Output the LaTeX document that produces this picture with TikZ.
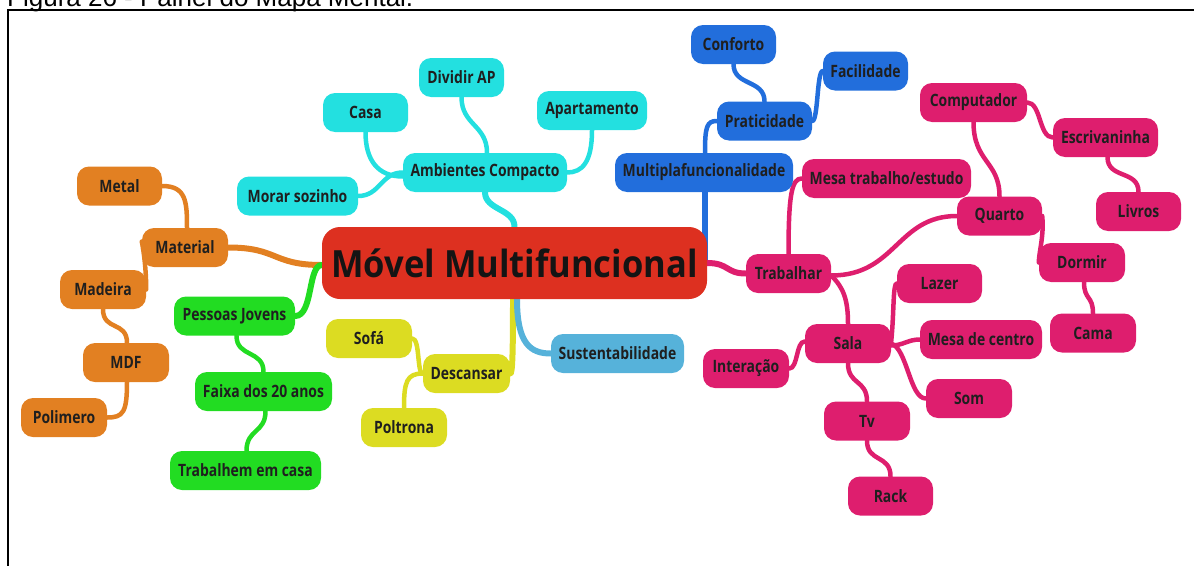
\documentclass[tikz,border=0pt]{standalone}
\usepackage{fontspec}
\newfontfamily\nodefont{Open Sans}[FakeStretch=0.82]
\newfontfamily\titlefont{Open Sans}[FakeStretch=0.92]
\newfontfamily\capfont{Liberation Sans}
\usetikzlibrary{backgrounds}
\definecolor{cy}{HTML}{23E0E0}
\definecolor{orc}{HTML}{E28022}
\definecolor{grc}{HTML}{22DC22}
\definecolor{yec}{HTML}{DCDC22}
\definecolor{lbc}{HTML}{56B2DA}
\definecolor{blc}{HTML}{226EDC}
\definecolor{mgc}{HTML}{DE1E6E}
\definecolor{rdc}{HTML}{DD3020}
\tikzset{
  mm/.style={rounded corners=12pt, minimum height=39pt, inner xsep=6pt, inner ysep=0pt,
    font=\nodefont\bfseries\fontsize{17}{20}\selectfont, text=black!88},
  ed/.style={line width=4.5pt, line cap=round},
  edr/.style={line width=6pt, line cap=round},
}
\begin{document}
\begin{tikzpicture}[x=1pt,y=-1pt]
\useasboundingbox (0,0) rectangle (1194,565);
\clip (0,0) rectangle (1194,565);
% caption and frame
\node[anchor=base west, inner sep=0pt, font=\capfont\fontsize{26}{30}\selectfont] (cap) at (7,6) {Figura 26 - Painel do Mapa Mental.};
\draw[line width=1.6pt] (8,570) -- (8,10) -- (1200,10);
% root
\node[rounded corners=18pt, fill=rdc, minimum width=385pt, minimum height=72pt, inner sep=0pt,
  font=\titlefont\bfseries\fontsize{37.5}{40}\selectfont, text=black!92] (root) at (514.5,263) {Móvel Multifuncional};
% cyan
\node[mm, fill=cy, minimum width=164pt] (amb) at (485,172.5) {Ambientes Compacto};
\node[mm, fill=cy, minimum width=85pt] (casa) at (365.5,112.5) {Casa};
\node[mm, fill=cy, minimum width=85pt] (div) at (461.5,77.5) {Dividir AP};
\node[mm, fill=cy, minimum width=110pt] (apt) at (592,110.5) {Apartamento};
\node[mm, fill=cy, minimum width=121pt] (morar) at (297.5,196) {Morar sozinho};
% orange
\node[mm, fill=orc, minimum width=86pt] (mat) at (185,247.5) {Material};
\node[mm, fill=orc, minimum width=85pt] (metal) at (119.5,186) {Metal};
\node[mm, fill=orc, minimum width=86pt] (mad) at (103,289.5) {Madeira};
\node[mm, fill=orc, minimum width=86pt] (mdf) at (126,362.5) {MDF};
\node[mm, fill=orc, minimum width=86pt] (pol) at (64,417.5) {Polimero};
% green
\node[mm, fill=grc, minimum width=121pt] (pj) at (234.5,316) {Pessoas Jovens};
\node[mm, fill=grc, minimum width=137pt] (faixa) at (263.5,391.5) {Faixa dos 20 anos};
\node[mm, fill=grc, minimum width=151pt] (trab) at (245.5,470.5) {Trabalhem em casa};
% yellow
\node[mm, fill=yec, minimum width=87pt] (desc) at (466.5,373.5) {Descansar};
\node[mm, fill=yec, minimum width=86pt] (sofa) at (369,338.5) {Sofá};
\node[mm, fill=yec, minimum width=86pt] (polt) at (404,427.5) {Poltrona};
% light blue
\node[mm, fill=lbc, minimum width=133pt] (sust) at (617.5,353.5) {Sustentabilidade};
% blue
\node[mm, fill=blc, minimum width=178pt] (multi) at (704,172.5) {Multiplafuncionalidade};
\node[mm, fill=blc, minimum width=95pt] (prat) at (764.5,121) {Praticidade};
\node[mm, fill=blc, minimum width=85pt] (conf) at (733.5,44.5) {Conforto};
\node[mm, fill=blc, minimum width=85pt] (fac) at (865.5,71) {Facilidade};
% magenta
\node[mm, fill=mgc, minimum width=85pt] (trabalhar) at (788.5,273.5) {Trabalhar};
\node[mm, fill=mgc, minimum width=169pt] (mesa) at (886.5,178.5) {Mesa trabalho/estudo};
\node[mm, fill=mgc, minimum width=85pt] (quarto) at (999.5,216) {Quarto};
\node[mm, fill=mgc, minimum width=107pt] (comp) at (973.5,102.5) {Computador};
\node[mm, fill=mgc, minimum width=105pt] (escr) at (1105.5,137.5) {Escrivaninha};
\node[mm, fill=mgc, minimum width=85pt] (livros) at (1138.5,211.5) {Livros};
\node[mm, fill=mgc, minimum width=86pt] (dormir) at (1082,262.5) {Dormir};
\node[mm, fill=mgc, minimum width=86pt] (cama) at (1093,333) {Cama};
\node[mm, fill=mgc, minimum width=86pt] (sala) at (848,343.5) {Sala};
\node[mm, fill=mgc, minimum width=85pt] (lazer) at (939.5,283.5) {Lazer};
\node[mm, fill=mgc, minimum width=122pt] (mesac) at (981,339.5) {Mesa de centro};
\node[mm, fill=mgc, minimum width=86pt] (inter) at (746,368.5) {Interação};
\node[mm, fill=mgc, minimum width=86pt] (som) at (969,398.5) {Som};
\node[mm, fill=mgc, minimum width=86pt] (tv) at (867,421) {Tv};
\node[mm, fill=mgc, minimum width=85pt] (rack) at (890.5,496) {Rack};
% connectors
\begin{pgfonlayer}{background}
% cyan
\draw[edr, cy] ([xshift=0pt]amb.south) .. controls +(0,18) and +(0,-18) .. ([xshift=0pt]root.north);
\draw[ed, cy] (casa.south) .. controls +(0,28) and +(-25,0) .. ([yshift=-4pt]amb.west);
\draw[ed, cy] (morar.east) .. controls +(22,0) and +(-22,0) .. ([yshift=0pt]amb.west);
\draw[ed, cy] (div.south) .. controls +(0,28) and +(0,-28) .. ([xshift=2pt]amb.north);
\draw[ed, cy] (apt.south) .. controls +(0,32) and +(15,0) .. (amb.east);
% orange
\draw[edr, orc] (mat.east) .. controls +(50,0) and +(-50,0) .. ([yshift=-2pt]root.west);
\draw[ed, orc] (metal.east) .. controls +(24,0) and +(0,-26) .. ([xshift=2pt]mat.north);
\draw[ed, orc] (mad.east) .. controls +(0,-20) and +(2,10) .. ([yshift=6pt]mat.west);
\draw[ed, orc] (mad.south) .. controls +(0,22) and +(0,-22) .. ([xshift=1pt]mdf.north);
\draw[ed, orc] ([xshift=1pt]mdf.south) .. controls +(0,30) and +(16,0) .. (pol.east);
% green
\draw[edr, grc] (pj.east) .. controls +(18,0) and +(-14,0) .. ([yshift=-2pt]root.west);
\draw[ed, grc] ([xshift=2pt]pj.south) .. controls +(0,22) and +(0,-22) .. (faixa.north);
\draw[ed, grc] ([xshift=2pt]faixa.south) .. controls +(0,22) and +(0,-22) .. ([xshift=1pt]trab.north);
% yellow
\draw[edr, yec] ([xshift=-1.5pt]root.south) .. controls +(0,60) and +(2,0) .. (desc.east);
\draw[ed, yec] (sofa.east) .. controls +(8,0) and +(-6,0) .. (desc.west);
\draw[ed, yec] (polt.north) .. controls +(0,-26) and +(-16,0) .. (desc.west);
% light blue
\draw[edr, lbc] ([xshift=2.5pt]root.south) .. controls +(0,45) and +(-20,0) .. (sust.west);
% blue
\draw[edr, blc] ([xshift=1pt]multi.south) -- (705,262);
\draw[ed, blc] ([xshift=1pt]multi.north) .. controls +(0,-26) and +(-10,0) .. (prat.west);
\draw[ed, blc] (conf.south) .. controls +(0,22) and +(0,-22) .. (prat.north);
\draw[ed, blc] (prat.east) .. controls +(6,0) and +(-6,0) .. (fac.west);
% magenta
\draw[edr, mgc] (root.east) .. controls +(22,0) and +(-20,0) .. (trabalhar.west);
\draw[ed, mgc] (trabalhar.north) .. controls +(0,-60) and +(-10,0) .. (mesa.west);
\draw[ed, mgc] ([yshift=-2pt]trabalhar.east) .. controls +(65,0) and +(-60,0) .. (quarto.west);
\draw[ed, mgc] (comp.south) .. controls +(0,40) and +(0,-35) .. (quarto.north);
\draw[ed, mgc] (comp.east) .. controls +(14,0) and +(-14,0) .. (escr.west);
\draw[ed, mgc] ([xshift=2pt]escr.south) .. controls +(0,22) and +(0,-22) .. (livros.north);
\draw[ed, mgc] (quarto.east) .. controls +(2,20) and +(0,-10) .. (dormir.west);
\draw[ed, mgc] ([xshift=2pt]dormir.south) .. controls +(0,18) and +(0,-18) .. (cama.north);
\draw[ed, mgc] ([yshift=-2pt]trabalhar.east) .. controls +(12,12) and +(0,-25) .. (sala.north);
\draw[ed, mgc] ([yshift=2pt]sala.east) .. controls +(3,-30) and +(-4,0) .. (lazer.west);
\draw[ed, mgc] ([yshift=-2pt]sala.east) .. controls +(12,0) and +(-12,0) .. (mesac.west);
\draw[ed, mgc] (sala.east) .. controls +(16,5) and +(-16,0) .. (som.west);
\draw[ed, mgc] (sala.south) .. controls +(0,22) and +(0,-22) .. (tv.north);
\draw[ed, mgc] (tv.south) .. controls +(0,22) and +(0,-22) .. (rack.north);
\draw[ed, mgc] (inter.east) .. controls +(9,0) and +(-9,0) .. ([yshift=2pt]sala.west);
\end{pgfonlayer}
\end{tikzpicture}
\end{document}
